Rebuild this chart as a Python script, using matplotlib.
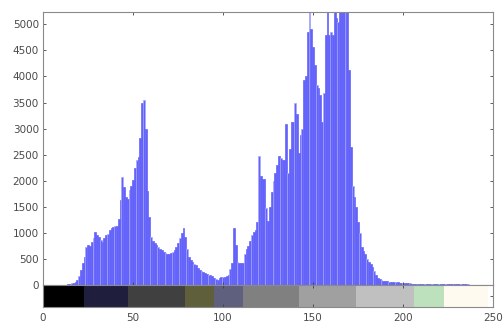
import numpy as np
import matplotlib
matplotlib.use("Agg")
import matplotlib.pyplot as plt

# histogram counts per grey level (tall bars are clipped)
levels = np.arange(0, 251)
counts = [0] * 14 + [
    10, 20, 30, 40, 60, 100, 180, 290, 420, 540,                    # 14-23
    730, 760, 750, 820, 900, 1010, 950, 920, 860, 820,              # 24-33
    900, 950, 980, 1050, 1100, 1110, 1130, 1140, 1270, 1630,        # 34-43
    2070, 1880, 1690, 1650, 1820, 1900, 2010, 2240, 2400, 2450,     # 44-53
    2810, 3490, 3540, 3000, 1800, 1300, 920, 850, 800, 760,         # 54-63
    720, 690, 670, 640, 610, 590, 590, 610, 640, 680,               # 64-73
    720, 800, 900, 1000, 1090, 930, 700, 540, 480, 440,             # 74-83
    400, 380, 330, 290, 270, 250, 230, 210, 200, 190,               # 84-93
    170, 140, 120, 100, 130, 150, 155, 160, 175, 190,               # 94-103
    300, 420, 1090, 770, 450, 420, 420, 430, 600, 700,              # 104-113
    740, 850, 950, 1010, 1060, 1200, 2470, 2100, 2040, 2040,        # 114-123
    1470, 1220, 1500, 1790, 2000, 2140, 2300, 2470, 2430, 2400,     # 124-133
    2400, 3090, 2140, 2600, 3120, 3120, 3500, 3280, 2530, 2870,     # 134-143
    2990, 3930, 4010, 4850, 5400, 4910, 4560, 4210, 3830, 3770,     # 144-153
    3640, 3120, 3680, 4790, 5400, 4790, 4850, 4790, 5400, 5130,     # 154-163
    5040, 5400, 5400, 5400, 5400, 5400, 4120, 2650, 1900, 1690,     # 164-173
    1500, 1200, 1000, 730, 650, 600, 500, 440, 400, 350,            # 174-183
    260, 190, 140, 110, 95, 85, 75, 70, 62, 58,                     # 184-193
    55, 52, 50, 48, 45, 42, 40, 38, 35, 32,                         # 194-203
    30, 28, 25, 23, 22, 20, 20, 18, 18, 17,                         # 204-213
    15, 15, 18, 20, 20, 18, 15, 15, 14, 15,                         # 214-223
    18, 20, 20, 18, 15, 14, 15, 16, 18, 16,                         # 224-233
    15, 12, 10, 8, 0, 0, 0, 0, 0, 0,                                # 234-243
    0, 0, 0, 0, 0, 0, 0,                                            # 244-250
]

# colour strip under the histogram
strip_edges = [0, 23, 47, 79, 95, 111, 142, 174, 206, 223, 247, 250]
strip_colors = ["#000000", "#1f1f3d", "#404040", "#5f5f3c", "#5f5f7e",
                "#808080", "#a0a0a0", "#c0c0c0", "#bde0bd", "#fffaf0", "#ffffff"]

yticks = np.arange(0, 5001, 500)
xticks = [0, 50, 100, 150, 200, 250]

fig = plt.figure(figsize=(5.04, 3.25), dpi=100)
ax = fig.add_axes([43 / 504, 40 / 325, 450 / 504, 273 / 325])
cax = fig.add_axes([43 / 504, 18 / 325, 450 / 504, 22 / 325])

# light seams every few bins, like the resampled original
edge_cols = ["#a8a8ff" if i % 4 == 0 else "#6363fa" for i in range(len(levels))]
ax.bar(levels, counts, width=1.0, color="#6363fa", edgecolor=edge_cols,
       linewidth=0.5, align="center")
ax.set_xlim(0, 250)
ax.set_ylim(0, 5236)
ax.set_yticks(yticks)
ax.set_xticks(xticks)
ax.tick_params(axis="both", direction="in", length=2.5, width=0.6,
               color="#404040", labelsize=7.5, labelcolor="#4a4a4a",
               top=True, right=True, labelbottom=False, pad=3)

for i in range(len(strip_colors)):
    cax.axvspan(strip_edges[i], strip_edges[i + 1], color=strip_colors[i], lw=0)
cax.set_xlim(0, 250)
cax.set_ylim(0, 1)
cax.set_xticks(xticks)
cax.set_yticks([0, 0.5, 1])
cax.tick_params(axis="both", direction="in", length=2.5, width=0.6,
                color="#404040", labelsize=7.5, labelcolor="#4a4a4a",
                top=True, right=True, left=False, labelleft=False, pad=4)

for a in (ax, cax):
    for s in a.spines.values():
        s.set_color("#8a8a8a")
        s.set_linewidth(0.8)

fig.savefig("out.png", dpi=100)
